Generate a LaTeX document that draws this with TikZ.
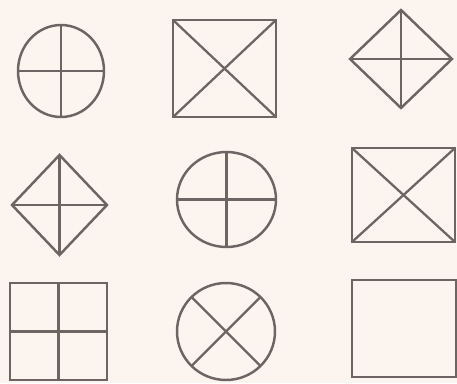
\documentclass[tikz,border=0pt]{standalone}
\usepackage{xcolor}
\usetikzlibrary{shapes.geometric}
\definecolor{SheetBg}{HTML}{FBF4EF}
\definecolor{PenGrey}{HTML}{6E6464}
\tikzset{
  fig/.style={draw=PenGrey,line width=1.4pt,inner sep=0pt,outer sep=0pt},
  ring/.style={fig,ellipse},
  box/.style={fig,rectangle},
  kite/.style={fig,diamond},
  stroke/.style={PenGrey,line width=1.3pt}
}

\begin{document}
\begin{tikzpicture}[x=0.02cm,y=-0.02cm]
\path[use as bounding box,fill=SheetBg] (0,0) rectangle (457,383);
% row 1
\node[ring,minimum width=1.72cm,minimum height=1.84cm] (ringA) at (61,71) {};
\draw[stroke] (ringA.north) -- (ringA.south);
\draw[stroke] (ringA.west) -- (ringA.east);
\node[box,minimum width=2.06cm,minimum height=1.94cm] (boxA) at (224.5,68.5) {};
\draw[stroke] (boxA.north west) -- (boxA.south east);
\draw[stroke] (boxA.north east) -- (boxA.south west);
\node[kite,minimum width=2.04cm,minimum height=1.96cm] (kiteA) at (401,59) {};
\draw[stroke] (kiteA.north) -- (kiteA.south);
\draw[stroke] (kiteA.west) -- (kiteA.east);
% row 2
\node[kite,minimum width=1.90cm,minimum height=2.00cm] (kiteB) at (59.5,205) {};
\draw[stroke] (kiteB.north) -- (kiteB.south);
\draw[stroke] (kiteB.west) -- (kiteB.east);
\node[ring,minimum width=1.98cm,minimum height=1.90cm] (ringB) at (226.5,199.5) {};
\draw[stroke] (ringB.north) -- (ringB.south);
\draw[stroke] (ringB.west) -- (ringB.east);
\node[box,minimum width=2.06cm,minimum height=1.88cm] (boxB) at (403.5,195) {};
\draw[stroke] (boxB.north west) -- (boxB.south east);
\draw[stroke] (boxB.north east) -- (boxB.south west);
% row 3
\node[box,minimum width=1.94cm,minimum height=1.94cm] (pane) at (58.5,331.5) {};
\draw[stroke] (pane.north) -- (pane.south);
\draw[stroke] (pane.west) -- (pane.east);
\node[ring,minimum width=1.96cm,minimum height=1.94cm] (ringC) at (226,331.5) {};
\draw[stroke] (ringC.45) -- (ringC.225);
\draw[stroke] (ringC.135) -- (ringC.315);
\node[box,minimum width=2.08cm,minimum height=1.94cm] (blank) at (404,328.5) {};
\end{tikzpicture}
\end{document}
